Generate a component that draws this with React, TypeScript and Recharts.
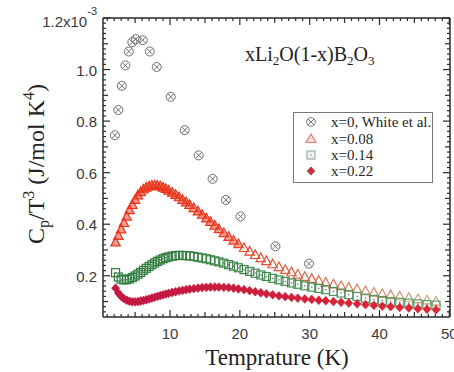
import React from "react";
import { Legend, Scatter, ScatterChart, XAxis, YAxis } from "recharts";

// White et al. (x = 0), sparse points
const tempWhite = [2.1, 2.6, 3.1, 3.6, 4.1, 4.6, 5.1, 6.1, 7.1, 8.1, 10.1, 12.1, 14.1, 16.1, 18.0, 20.1, 25.1, 29.9];
const cpWhite = [0.745, 0.843, 0.937, 1.016, 1.07, 1.106, 1.118, 1.114, 1.07, 1.01, 0.894, 0.765, 0.667, 0.576, 0.494, 0.43, 0.314, 0.247];

// measured temperatures shared by the three glass samples
const temps = [
    2.2, 2.6, 3.0, 3.4, 3.8, 4.2, 4.6, 5.0, 5.4, 5.8, 6.2, 6.6, 7.0, 7.4, 7.8, 8.2, 8.6, 9.0, 9.4, 9.8,
    10.3, 10.8, 11.3, 11.8, 12.3, 12.8, 13.4, 14.0, 14.6, 15.2, 15.8, 16.4, 17.0, 17.7, 18.4, 19.1, 19.8,
    20.6, 21.4, 22.2, 23.0, 23.8, 24.7, 25.6, 26.5, 27.4, 28.3, 29.3, 30.3, 31.3, 32.3, 33.4, 34.5, 35.6,
    36.8, 38.0, 39.2, 40.4, 41.6, 42.9, 44.2, 45.5, 46.8, 48.1,
];
const cpX008 = [
    0.33, 0.355, 0.38, 0.405, 0.43, 0.455, 0.475, 0.495, 0.512, 0.525, 0.535, 0.542, 0.547, 0.55, 0.551, 0.55, 0.547, 0.542, 0.537, 0.531,
    0.523, 0.514, 0.505, 0.495, 0.485, 0.475, 0.463, 0.45, 0.437, 0.423, 0.409, 0.395, 0.381, 0.366, 0.351, 0.337, 0.323,
    0.308, 0.294, 0.281, 0.269, 0.257, 0.245, 0.234, 0.223, 0.214, 0.205, 0.196, 0.188, 0.181, 0.174, 0.167, 0.16, 0.154,
    0.148, 0.141, 0.135, 0.13, 0.125, 0.12, 0.115, 0.11, 0.105, 0.1,
];
const cpX014 = [
    0.212, 0.195, 0.187, 0.184, 0.185, 0.188, 0.193, 0.199, 0.206, 0.213, 0.221, 0.229, 0.236, 0.243, 0.25, 0.256, 0.261, 0.266, 0.27, 0.273,
    0.276, 0.278, 0.279, 0.279, 0.278, 0.277, 0.275, 0.272, 0.269, 0.266, 0.262, 0.258, 0.254, 0.249, 0.243, 0.237, 0.231,
    0.224, 0.217, 0.21, 0.203, 0.197, 0.19, 0.184, 0.178, 0.172, 0.167, 0.161, 0.156, 0.151, 0.146, 0.139, 0.133, 0.127,
    0.12, 0.113, 0.108, 0.104, 0.1, 0.097, 0.094, 0.091, 0.088, 0.086,
];
const cpX022 = [
    0.152, 0.133, 0.12, 0.111, 0.105, 0.101, 0.099, 0.099, 0.1, 0.102, 0.104, 0.107, 0.11, 0.113, 0.117, 0.12, 0.123, 0.126, 0.129, 0.132,
    0.135, 0.138, 0.141, 0.143, 0.146, 0.148, 0.15, 0.152, 0.154, 0.155, 0.156, 0.156, 0.156, 0.155, 0.154, 0.152, 0.149,
    0.146, 0.142, 0.138, 0.134, 0.13, 0.126, 0.122, 0.119, 0.116, 0.113, 0.11, 0.108, 0.105, 0.103, 0.1, 0.097, 0.094,
    0.091, 0.088, 0.085, 0.082, 0.08, 0.077, 0.075, 0.072, 0.07, 0.068,
];

const xMajor = [10, 20, 30, 40, 50];
const yMajor = [0.2, 0.4, 0.6, 0.8, 1.0, 1.2];
const legendLabels = ["x=0, White et al.", "x=0.08", "x=0.14", "x=0.22"];

const X_DOMAIN: [number, number] = [0.4, 50.1];
const Y_DOMAIN: [number, number] = [0.04, 1.2];

const xTickVals = Array.from({ length: 50 }, (_, i) => i + 1);
const yTickVals = Array.from({ length: 58 }, (_, i) => Math.round((0.06 + i * 0.02) * 100) / 100);

const near = (a: number, b: number) => Math.abs(a - b) < 1e-6;
const isMult = (v: number, step: number) => near(v / step, Math.round(v / step));

const whiteData = tempWhite.map((t, i) => ({ t, cp: cpWhite[i] }));
const data008 = temps.map((t, i) => ({ t, cp: cpX008[i] }));
const data014 = temps.map((t, i) => ({ t, cp: cpX014[i] }));
const data022 = temps.map((t, i) => ({ t, cp: cpX022[i] }));

const AXIS = "#2a2a2a";
const LABEL = "#3a3a3a";

function mix(a: number[], b: number[], f: number) {
    const c = a.map((v, i) => Math.round(v + (b[i] - v) * f));
    return `rgb(${c[0]},${c[1]},${c[2]})`;
}
const clamp = (v: number) => Math.max(0, Math.min(1, v));

function CircleX(props: any) {
    const { cx, cy } = props;
    return (
        <g stroke="#707070" strokeWidth={1} fill="none">
            <circle cx={cx} cy={cy} r={4.5} />
            <line x1={cx - 3} y1={cy - 3} x2={cx + 3} y2={cy + 3} />
            <line x1={cx - 3} y1={cy + 3} x2={cx + 3} y2={cy - 3} />
        </g>
    );
}

function Triangle(props: any) {
    const { cx, cy, payload } = props;
    const f = clamp(((payload?.t ?? 0) - 16) / 30);
    const col = mix([232, 52, 26], [212, 160, 125], f);
    const fillOp = f < 0.15 ? 0.5 : 0;
    return (
        <polygon
            points={`${cx},${cy - 5} ${cx - 4.7},${cy + 3.6} ${cx + 4.7},${cy + 3.6}`}
            fill={col}
            fillOpacity={fillOp}
            stroke={col}
            strokeWidth={1.2}
        />
    );
}

function Square(props: any) {
    const { cx, cy, payload } = props;
    const f = clamp(((payload?.t ?? 0) - 10) / 38);
    const col = mix([44, 125, 60], [95, 160, 110], f);
    return (
        <g>
            <rect x={cx - 4} y={cy - 4} width={8} height={8} fill="none" stroke={col} strokeWidth={1.2} />
            <rect x={cx - 0.7} y={cy - 0.7} width={1.4} height={1.4} fill="#777" />
        </g>
    );
}

function Diamond(props: any) {
    const { cx, cy, payload } = props;
    const f = clamp(((payload?.t ?? 0) - 8) / 40);
    const col = mix([196, 24, 66], [226, 40, 50], f);
    return <polygon points={`${cx},${cy - 4.4} ${cx + 4},${cy} ${cx},${cy + 4.4} ${cx - 4},${cy}`} fill={col} stroke={col} strokeWidth={0.6} />;
}

function tickLen(v: number, major: number, mid: number) {
    if (isMult(v, major)) return 7;
    if (isMult(v, mid)) return 5;
    return 3;
}

function BottomTick(props: any) {
    const { x, y, payload } = props;
    const v = payload.value;
    const len = tickLen(v, 10, 5);
    return (
        <g>
            <line x1={x} y1={y} x2={x} y2={y - len} stroke={AXIS} strokeWidth={1.2} />
            {xMajor.includes(v) && (
                <text x={x} y={y + 22} textAnchor="middle" fontFamily="Liberation Sans, Arial" fontSize={15} fill={LABEL}>
                    {v}
                </text>
            )}
        </g>
    );
}

function TopTick(props: any) {
    const { x, y, payload } = props;
    const len = tickLen(payload.value, 10, 5);
    return <line x1={x} y1={y} x2={x} y2={y + len} stroke={AXIS} strokeWidth={1.2} />;
}

function LeftTick(props: any) {
    const { x, y, payload } = props;
    const v = payload.value;
    const len = tickLen(v, 0.2, 0.1);
    const major = yMajor.some((m) => near(m, v));
    return (
        <g>
            <line x1={x} y1={y} x2={x + len} y2={y} stroke={AXIS} strokeWidth={1.2} />
            {major && !near(v, 1.2) && (
                <text x={x - 6} y={y + 6} textAnchor="end" fontFamily="Liberation Sans, Arial" fontSize={15} fill={LABEL}>
                    {v.toFixed(1)}
                </text>
            )}
            {near(v, 1.2) && (
                <text x={x - 6} y={y + 9} textAnchor="end" fontFamily="Liberation Sans, Arial" fontSize={15} fill={LABEL}>
                    1.2x10
                    <tspan fontSize={11} dy={-12}>
                        -3
                    </tspan>
                </text>
            )}
        </g>
    );
}

function RightTick(props: any) {
    const { x, y, payload } = props;
    const len = tickLen(payload.value, 0.2, 0.1);
    return <line x1={x} y1={y} x2={x - len} y2={y} stroke={AXIS} strokeWidth={1.2} />;
}

function LegendBox() {
    const symbols = [
        <g stroke="#7a7a7a" fill="none" strokeWidth={1}>
            <circle cx={8} cy={7} r={4.3} />
            <line x1={5} y1={4} x2={11} y2={10} />
            <line x1={5} y1={10} x2={11} y2={4} />
        </g>,
        <polygon points="8,2 3,10.5 13,10.5" fill="#f6dcd6" stroke="#d7837a" strokeWidth={1.2} />,
        <g>
            <rect x={4} y={3} width={8} height={8} fill="#eef3ef" stroke="#93b3a0" strokeWidth={1.2} />
            <rect x={7.3} y={6.3} width={1.4} height={1.4} fill="#999" />
        </g>,
        <polygon points="8,2.5 12.3,7 8,11.5 3.7,7" fill="#c2303e" />,
    ];
    return (
        <div
            style={{
                boxSizing: "border-box",
                width: 140,
                height: 71,
                border: "1px solid #777",
                background: "#fff",
                padding: "1px 0 0 9px",
                fontFamily: "Liberation Serif, Times New Roman",
                fontSize: 15,
                color: "#262626",
            }}
        >
            {legendLabels.map((label, i) => (
                <div key={label} style={{ display: "flex", alignItems: "center", height: 16.4 }}>
                    <svg width={16} height={14} style={{ display: "block" }}>
                        {symbols[i]}
                    </svg>
                    <span style={{ marginLeft: 12, lineHeight: "16px", whiteSpace: "nowrap" }}>{label}</span>
                </div>
            ))}
        </div>
    );
}

export default function App() {
    const W = 454;
    const H = 372;
    const axisCommon = {
        type: "number" as const,
        allowDataOverflow: true,
        interval: 0 as const,
        tickSize: 0,
        tickMargin: 0,
        tickLine: false,
        axisLine: { stroke: AXIS, strokeWidth: 1.5 },
    };
    return (
        <div style={{ position: "absolute", left: 0, top: 0, width: W, height: H, background: "#fff" }}>
            <ScatterChart width={W} height={H} margin={{ top: 17, right: 3, bottom: 54, left: 102 }}>
                <XAxis {...axisCommon} xAxisId="b" dataKey="t" orientation="bottom" domain={X_DOMAIN} ticks={xTickVals} height={1} tick={<BottomTick />} />
                <XAxis {...axisCommon} xAxisId="t" dataKey="t" orientation="top" domain={X_DOMAIN} ticks={xTickVals} height={1} tick={<TopTick />} />
                <YAxis {...axisCommon} yAxisId="l" dataKey="cp" orientation="left" domain={Y_DOMAIN} ticks={yTickVals} width={1} tick={<LeftTick />} />
                <YAxis {...axisCommon} yAxisId="r" dataKey="cp" orientation="right" domain={Y_DOMAIN} ticks={yTickVals} width={1} tick={<RightTick />} />
                <Scatter name={legendLabels[0]} data={whiteData} xAxisId="b" yAxisId="l" shape={<CircleX />} isAnimationActive={false} />
                <Scatter name={legendLabels[1]} data={data008} xAxisId="b" yAxisId="l" shape={<Triangle />} isAnimationActive={false} />
                <Scatter name={legendLabels[2]} data={data014} xAxisId="b" yAxisId="l" shape={<Square />} isAnimationActive={false} />
                <Scatter name={legendLabels[3]} data={data022} xAxisId="b" yAxisId="l" shape={<Diamond />} isAnimationActive={false} />
                <Legend
                    layout="vertical"
                    align="center"
                    verticalAlign="middle"
                    content={() => <LegendBox />}
                    wrapperStyle={{ left: 293, top: 112, width: 140, height: 71 }}
                />
            </ScatterChart>
            <svg width={W} height={H} style={{ position: "absolute", left: 0, top: 0, pointerEvents: "none" }}>
                <text
                    transform="translate(44,164) rotate(-90)"
                    textAnchor="middle"
                    fontFamily="Liberation Serif, Times New Roman"
                    fontSize={24}
                    fill="#222"
                >
                    C
                    <tspan fontSize={16} dy={5}>
                        p
                    </tspan>
                    <tspan dy={-5}>/T</tspan>
                    <tspan fontSize={16} dy={-10}>
                        3
                    </tspan>
                    <tspan dy={10}> (J/mol K</tspan>
                    <tspan fontSize={16} dy={-10}>
                        4
                    </tspan>
                    <tspan dy={10}>)</tspan>
                </text>
                <text x={277} y={365} textAnchor="middle" fontFamily="Liberation Serif, Times New Roman" fontSize={23} fill="#222">
                    Temprature (K)
                </text>
                <text x={245} y={61} fontFamily="Liberation Serif, Times New Roman" fontSize={20} fill="#222">
                    xLi
                    <tspan fontSize={13} dy={4}>
                        2
                    </tspan>
                    <tspan dy={-4}>O(1-x)B</tspan>
                    <tspan fontSize={13} dy={4}>
                        2
                    </tspan>
                    <tspan dy={-4}>O</tspan>
                    <tspan fontSize={13} dy={4}>
                        3
                    </tspan>
                </text>
            </svg>
        </div>
    );
}
